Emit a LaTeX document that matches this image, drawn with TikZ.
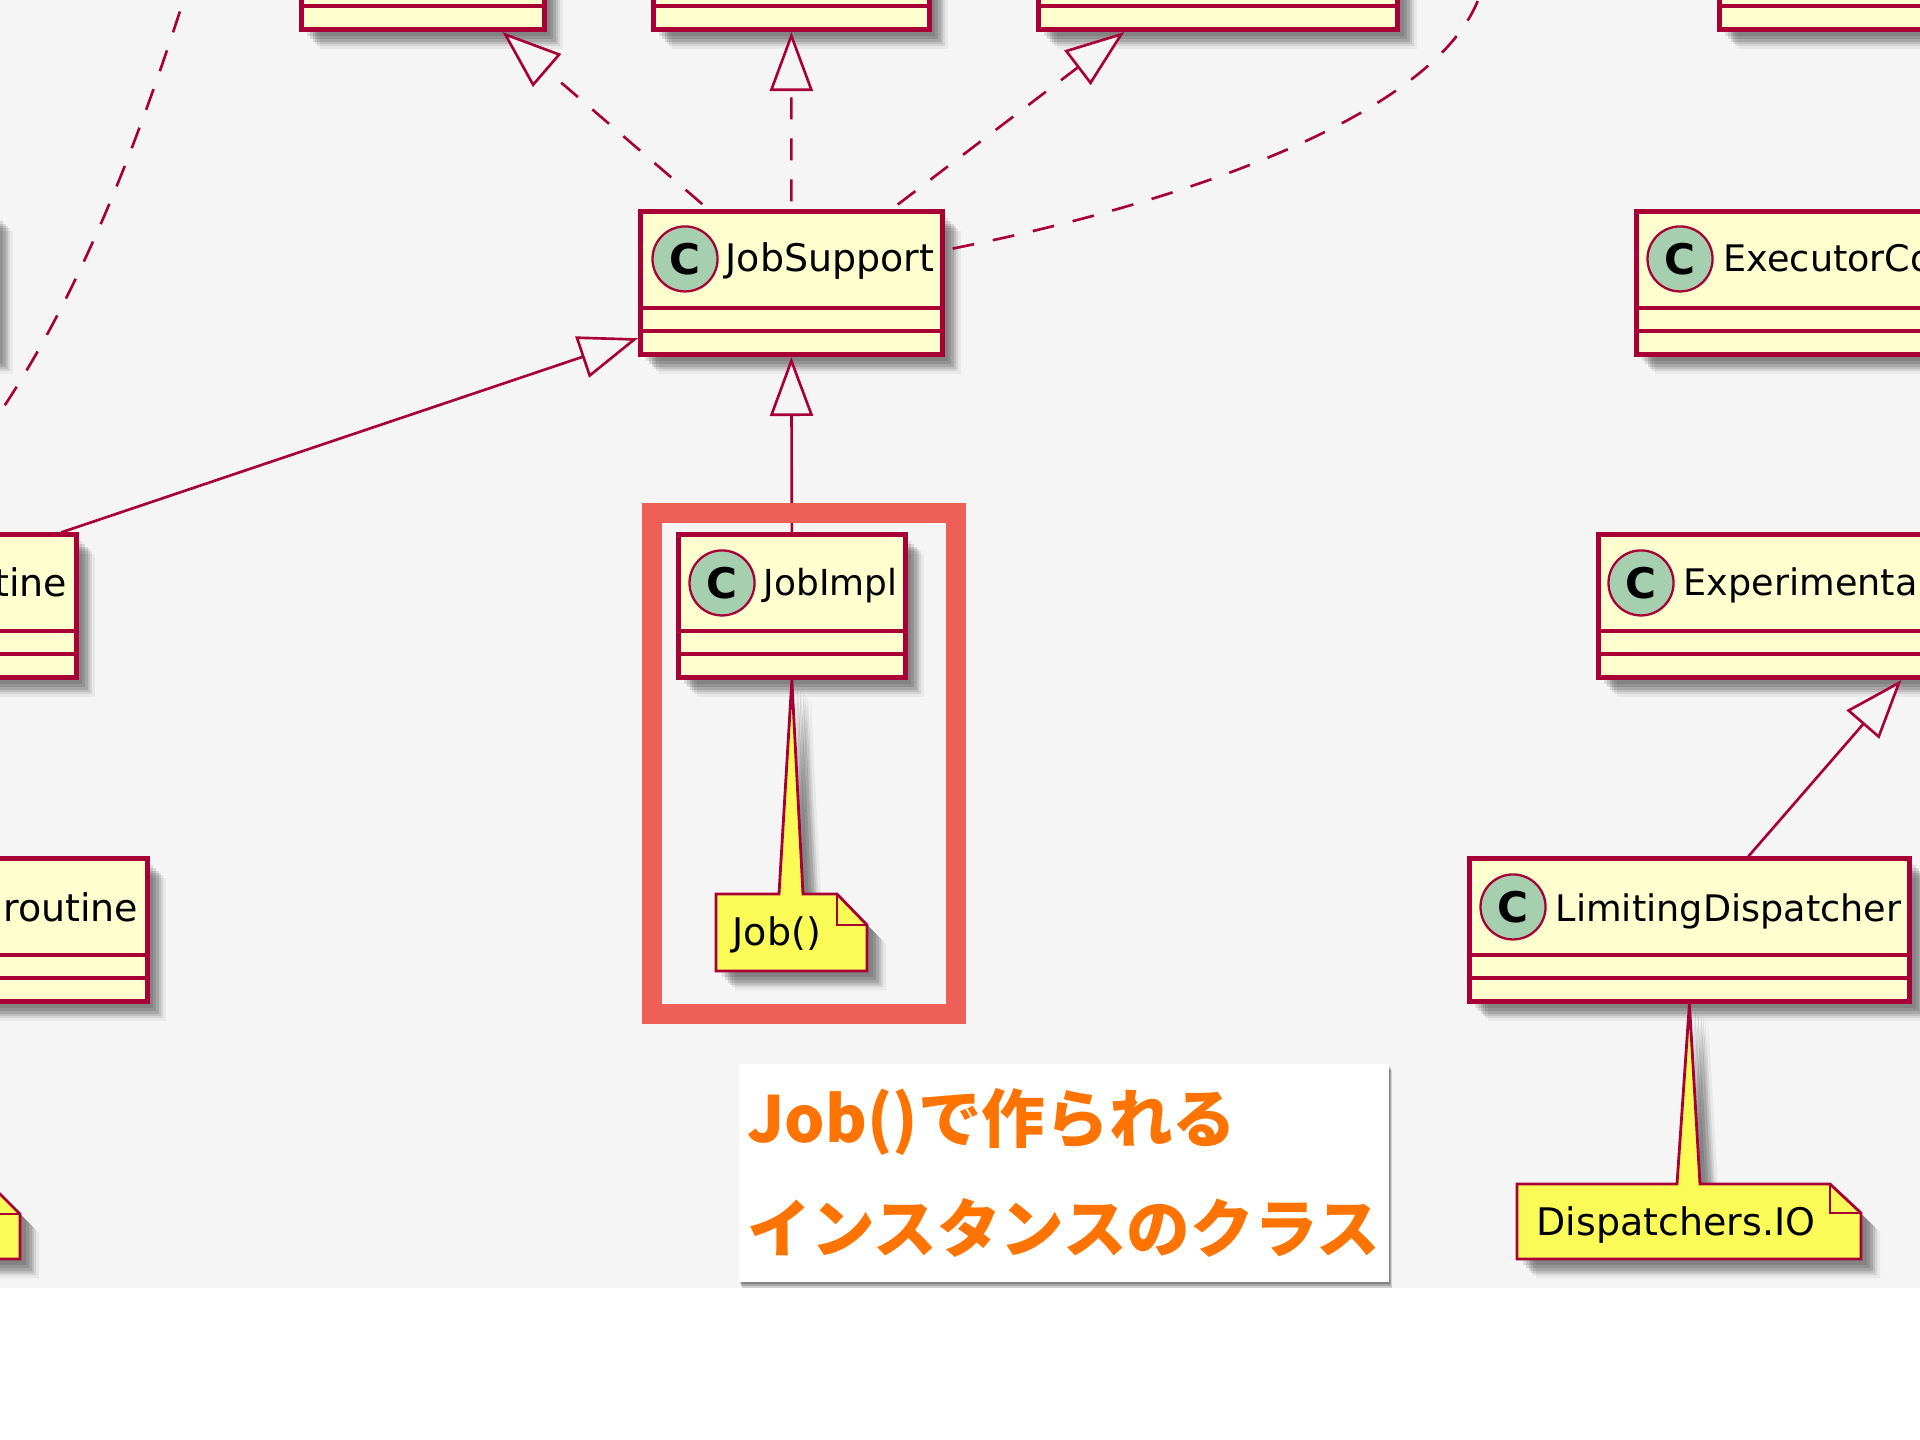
\documentclass[tikz,border=0pt]{standalone}
\usepackage{fontspec}
\setmainfont{DejaVu Sans}
\newfontfamily\jpfont{Noto Sans CJK JP}
\usetikzlibrary{
  arrows.meta,
  positioning,
  shadows
}
\tikzset{
  every node/.style={inner sep=0pt}
}
\definecolor{canvasGray}{RGB}{245, 245, 245}
\definecolor{classYellow}{RGB}{254, 254, 206}
\definecolor{classBorder}{RGB}{168, 0, 54}
\definecolor{markGreen}{RGB}{165, 207, 175}
\definecolor{noteYellow}{RGB}{251, 251, 87}
\definecolor{frameRed}{RGB}{238, 95, 87}
\definecolor{calloutOrange}{RGB}{255, 115, 0}

\begin{document}
\begin{tikzpicture}[
    x=0.01cm, y=-0.01cm,
    softshadow/.style={
        drop shadow={shadow xshift=.06cm, shadow yshift=-.06cm, opacity=.1, fill=black},
        drop shadow={shadow xshift=.09cm, shadow yshift=-.09cm, opacity=.12, fill=black},
        drop shadow={shadow xshift=.12cm, shadow yshift=-.12cm, opacity=.12, fill=black},
        drop shadow={shadow xshift=.14cm, shadow yshift=-.14cm, opacity=.1, fill=black},
        drop shadow={shadow xshift=.16cm, shadow yshift=-.16cm, opacity=.08, fill=black},
        drop shadow={shadow xshift=.19cm, shadow yshift=-.19cm, opacity=.05, fill=black}
    },
    classbox/.style={rectangle, draw=classBorder, fill=classYellow, line width=1.3pt, anchor=south west, minimum height=1.43cm, softshadow,
        path picture={
            \draw[classBorder, line width=1.1pt] ([yshift=.24cm]path picture bounding box.south west) -- ([yshift=.24cm]path picture bounding box.south east);
            \draw[classBorder, line width=1.1pt] ([yshift=.47cm]path picture bounding box.south west) -- ([yshift=.47cm]path picture bounding box.south east);
        }},
    classmark/.style={circle, draw=classBorder, fill=markGreen, line width=.65pt, minimum size=.65cm, font=\fontsize{12}{14}\bfseries\selectfont},
    classname/.style={anchor=base west, font=\fontsize{10.8}{13}\selectfont},
    narrowname/.style={classname, font=\fontsize{10.4}{13}\selectfont},
    notepaper/.style={draw=classBorder, fill=noteYellow, line width=.8pt, softshadow},
    notefold/.style={draw=classBorder, line width=.8pt},
    arrow/.style={-{Triangle[length=.59cm, width=.43cm, fill=canvasGray]}, draw=classBorder, line width=.75pt},
    dasharrow/.style={arrow, dash pattern=on .22cm off .19cm, dash phase=.33cm}
]

    \useasboundingbox (0,0) rectangle (1920,1440);
    \clip (0,0) rectangle (1920,1440);
    \fill[white] (0,0) rectangle (1920,1440);
    \fill[canvasGray] (0,0) rectangle (1920,1288);

    % top row, cut off by the page
    \node[classbox, minimum width=2.43cm] (topLeft) at (299,32) {};
    \node[classbox, minimum width=2.76cm] (topMiddle) at (651,32) {};
    \node[classbox, minimum width=3.59cm] (topRight) at (1036,32) {};
    \node[classbox, minimum width=5cm] (topFar) at (1717,32) {};

    % second row
    \node[classbox, minimum width=3cm] (leftClass) at (-308,357) {};
    \node[classbox, minimum width=3.02cm] (jobSupport) at (638,357) {};
    \node[classmark] (jobSupportMark) at ([xshift=.47cm,yshift=.98cm]jobSupport.south west) {C};
    \node[classname] (jobSupportName) at ([xshift=.40cm,yshift=-.13cm]jobSupportMark.center) {JobSupport};

    \node[classbox, minimum width=5cm] (executor) at (1634,357) {};
    \node[classmark] (executorMark) at ([xshift=.46cm,yshift=.98cm]executor.south west) {C};
    \node[narrowname] (executorName) at ([xshift=.43cm,yshift=-.13cm]executorMark.center) {ExecutorCo};

    % third row
    \node[classbox, minimum width=2.74cm] (tineClass) at (-200,680) {};
    \node[classname, anchor=base east] (tineName) at (68,597) {tine};

    \node[classbox, minimum width=2.27cm] (jobImpl) at (676,680) {};
    \node[classmark] (jobImplMark) at ([xshift=.46cm,yshift=.97cm]jobImpl.south west) {C};
    \node[classname, font=\fontsize{10.2}{13}\selectfont] (jobImplName) at ([xshift=.41cm,yshift=-.13cm]jobImplMark.center) {JobImpl};

    \node[classbox, minimum width=7cm] (experimental) at (1596,680) {};
    \node[classmark] (experimentalMark) at ([xshift=.45cm,yshift=.97cm]experimental.south west) {C};
    \node[narrowname] (experimentalName) at ([xshift=.42cm,yshift=-.13cm]experimentalMark.center) {Experimenta};

    % fourth row
    \node[classbox, minimum width=3.45cm] (routineClass) at (-200,1004) {};
    \node[classname, anchor=base east] (routineName) at (139,922) {routine};

    \node[classbox, minimum width=4.40cm] (limiting) at (1467,1004) {};
    \node[classmark] (limitingMark) at ([xshift=.46cm,yshift=.97cm]limiting.south west) {C};
    \node[narrowname] (limitingName) at ([xshift=.42cm,yshift=-.15cm]limitingMark.center) {LimitingDispatcher};

    % notes
    \path[notepaper] (716,894) -- (779,894) -- (jobImpl.south) -- (803,894) -- (837,894) -- (867,925) -- (867,971) -- (716,971) -- cycle;
    \draw[notefold] (837,894) |- (867,925);
    \node[classname] (jobNote) at (732,946) {Job()};

    \path[notepaper] (1517,1184) -- (1677,1184) -- (limiting.south) -- (1700,1184) -- (1830,1184) -- (1861,1213) -- (1861,1259) -- (1517,1259) -- cycle;
    \draw[notefold] (1830,1184) |- (1861,1213);
    \node[classname] (dispatchersNote) at (1536,1236) {Dispatchers.IO};

    \path[notepaper] (-60,1184) -- (-10,1184) -- (20,1214) -- (20,1259) -- (-60,1259) -- cycle;
    \draw[notefold] (-10,1184) |- (20,1214);

    % connectors
    \draw[dasharrow] ([xshift=-.83cm]jobSupport.north) -- ([xshift=.795cm]topLeft.south);
    \draw[dasharrow] (jobSupport.north) -- (topMiddle.south);
    \draw[dasharrow] ([xshift=1cm]jobSupport.north) -- ([xshift=-.935cm]topRight.south);

    \coordinate (curveEnd) at (1480,-5);
    \draw[classBorder, line width=.75pt, dash pattern=on .22cm off .19cm, dash phase=.33cm] ([yshift=.33cm]jobSupport.east) .. controls (1200,200) and (1440,110) .. (curveEnd);

    \coordinate (leftStart) at (190,-20);
    \coordinate (leftEnd) at (-5,420);
    \draw[classBorder, line width=.75pt, dash pattern=on .22cm off .19cm, dash phase=.08cm] (leftStart) .. controls (130,170) and (70,310) .. (leftEnd);

    \draw[arrow] ([xshift=1.22cm]tineClass.north) -- ([yshift=-.55cm]jobSupport.west);
    \draw[arrow] (jobImpl.north) -- (jobSupport.south);
    \draw[arrow] ([xshift=.59cm]limiting.north) -- ([xshift=-.47cm]experimental.south);

    % highlight and callout
    \node[draw=frameRed, line width=.2cm, minimum width=3.04cm, minimum height=5.01cm, anchor=north west] (highlight) at (642,503) {};

    \node[fill=white, anchor=north west, minimum width=6.5cm, minimum height=2.18cm, align=left, text=calloutOrange,
        drop shadow={shadow xshift=.01cm, shadow yshift=-.02cm, opacity=.2, fill=black},
        drop shadow={shadow xshift=.02cm, shadow yshift=-.04cm, opacity=.2, fill=black},
        drop shadow={shadow xshift=.03cm, shadow yshift=-.06cm, opacity=.15, fill=black},
        font=\jpfont\bfseries\fontsize{18.1}{31.3}\selectfont] (callout) at (738,1063) {Job()で作られる\\インスタンスのクラス};

\end{tikzpicture}
\end{document}
